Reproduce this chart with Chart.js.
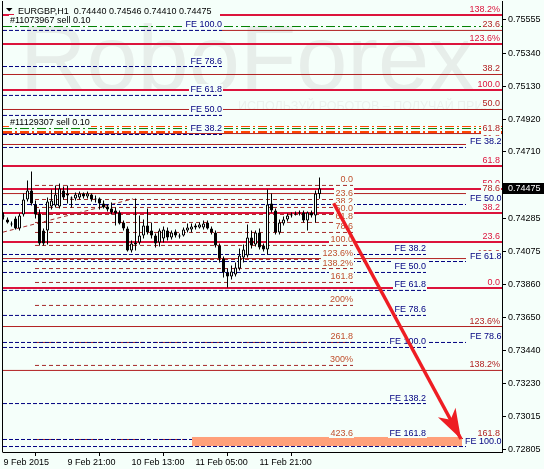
<!DOCTYPE html>
<html>
<head>
<meta charset="utf-8">
<title>EURGBP,H1</title>
<script src="https://cdn.jsdelivr.net/npm/chart.js@4.4.1/dist/chart.umd.min.js"></script>
<style>
html,body{margin:0;padding:0;background:#F5FFFA;overflow:hidden;}
canvas{display:block;}
</style>
</head>
<body>
<canvas id="chart" width="544" height="469"></canvas>
<script>
// ---------------- DATA ----------------
const symbolTitle = 'EURGBP,H1';
const hours = [0,1,2,3,4,5,6,7,8,9,10,11,12,13,14,15,16,17,18,19,20,21,22,23,24,25,26,27,28,29,30,31,32,33,34,35,36,37,38,39,40,41,42,43,44,45,46,47,48,49,50,51,52,53,54,55,56,57,58,59,60,61,62,63,64,65,66,67,68,69,70,71,72,73,74,75,76,77,78,79];
const opens = [0.74296,0.74277,0.74251,0.74283,0.74219,0.74309,0.74405,0.74462,0.74373,0.74315,
0.74207,0.74207,0.74360,0.74367,0.74360,0.74462,0.74430,0.74411,0.74411,0.74418,
0.74443,0.74424,0.74437,0.74405,0.74411,0.74379,0.74360,0.74347,0.74335,0.74322,
0.74258,0.74219,0.74079,0.74117,0.74130,0.74175,0.74239,0.74207,0.74175,0.74130,
0.74155,0.74207,0.74162,0.74200,0.74175,0.74175,0.74207,0.74213,0.74239,0.74226,
0.74226,0.74258,0.74219,0.74194,0.74111,0.74027,0.73938,0.73912,0.73925,0.73963,
0.74034,0.74047,0.74162,0.74117,0.74194,0.74111,0.74085,0.74379,0.74335,0.74194,
0.74251,0.74277,0.74303,0.74309,0.74315,0.74322,0.74271,0.74322,0.74303,0.74440];
const highs = [0.74322,0.74290,0.74264,0.74296,0.74315,0.74443,0.74527,0.74584,0.74398,0.74341,
0.74219,0.74418,0.74469,0.74494,0.74507,0.74488,0.74494,0.74424,0.74450,0.74456,
0.74450,0.74456,0.74443,0.74430,0.74418,0.74398,0.74373,0.74386,0.74354,0.74335,
0.74271,0.74232,0.74143,0.74411,0.74303,0.74277,0.74347,0.74258,0.74187,0.74219,
0.74232,0.74226,0.74207,0.74213,0.74187,0.74226,0.74251,0.74251,0.74251,0.74258,
0.74271,0.74271,0.74232,0.74207,0.74123,0.74040,0.73963,0.73983,0.74002,0.74091,
0.74117,0.74245,0.74207,0.74207,0.74219,0.74123,0.74469,0.74443,0.74347,0.74277,
0.74296,0.74315,0.74322,0.74328,0.74335,0.74335,0.74328,0.74335,0.74462,0.74546];
const lows = [0.74277,0.74251,0.74232,0.74213,0.74207,0.74296,0.74392,0.74367,0.74283,0.74111,
0.74111,0.74117,0.74341,0.74354,0.74347,0.74405,0.74379,0.74354,0.74398,0.74405,
0.74411,0.74411,0.74392,0.74386,0.74341,0.74347,0.74328,0.74309,0.74239,0.74245,
0.74207,0.74072,0.74066,0.74079,0.74117,0.74155,0.74181,0.74155,0.74098,0.74104,
0.74130,0.74143,0.74149,0.74162,0.74155,0.74168,0.74194,0.74194,0.74213,0.74219,
0.74213,0.74213,0.74181,0.74098,0.74002,0.73906,0.73842,0.73893,0.73912,0.73951,
0.74002,0.74034,0.74091,0.74104,0.74085,0.74072,0.74053,0.74322,0.74181,0.74181,
0.74239,0.74264,0.74290,0.74303,0.74303,0.74258,0.74207,0.74290,0.74258,0.74410];
const closes = [0.74303,0.74258,0.74245,0.74219,0.74303,0.74405,0.74462,0.74379,0.74309,0.74123,
0.74123,0.74392,0.74398,0.74437,0.74475,0.74418,0.74443,0.74411,0.74437,0.74443,
0.74424,0.74443,0.74405,0.74411,0.74379,0.74354,0.74341,0.74322,0.74315,0.74251,
0.74219,0.74079,0.74123,0.74130,0.74175,0.74239,0.74194,0.74175,0.74123,0.74207,
0.74213,0.74162,0.74194,0.74175,0.74168,0.74213,0.74226,0.74232,0.74226,0.74245,
0.74251,0.74219,0.74194,0.74111,0.74027,0.73938,0.73912,0.73944,0.73970,0.74047,
0.74085,0.74162,0.74111,0.74194,0.74098,0.74085,0.74373,0.74335,0.74194,0.74258,
0.74277,0.74303,0.74309,0.74315,0.74322,0.74271,0.74322,0.74303,0.74443,0.74475];

const xTickHours = [0,16,32,48,64];
const xTickLabels = ['9 Feb 2015','9 Feb 21:00','10 Feb 13:00','11 Feb 05:00','11 Feb 21:00'];
const yTickValues = [0.75555,0.75340,0.75130,0.74920,0.74710,0.74285,0.74075,0.73860,0.73650,0.73440,0.73230,0.73015,0.72805];

// Fibonacci expansion (thick) levels
const thickFibPrices = [0.75586,0.75400,0.75106,0.74619,0.74472,0.74319,0.74133,0.73839];
const thickFibLabels = ['138.2%','123.6%','100.0','61.8','50.0','38.2','23.6','0.0'];
// Fibonacci (thin) levels
const thinFibPrices = [0.75487,0.75205,0.74981,0.74757,0.74443,0.74027,0.73592,0.73311,0.72875];
const thinFibLabels = ['23.6','38.2','50.0','61.8','78.6','100.0','123.6%','138.2%','161.8'];
const thinFibFrom = [54.625,-0.125,-0.125,-0.125,-0.125,-0.125,-0.125,-0.125,114.625];
const thinFibTo   = [124.625,124.625,124.625,115.625,115.625,115.625,124.625,124.625,124.625];
// Retracement grid (dashed)
const retrPrices = [0.74495,0.74405,0.74354,0.74309,0.74258,0.74194,0.74111,0.74021,0.73963,0.73874,0.73727,0.73490,0.73343,0.72869];
const retrLabels = ['0.0','23.6','38.2','50.0','61.8','78.6','100.0','123.6%','138.2%','161.8','200%','261.8','300%','423.6'];
const retrFrom = 7.875, retrTo = 87.375;
const retrLineX = [-0.125, 32.375];
const retrLineY = [0.74196, 0.74409];
// FE sets
const feAPrices = [0.75487,0.75256,0.75071,0.74943,0.74821];
const feALabels = ['FE 100.0','FE 78.6','FE 61.8','FE 50.0','FE 38.2'];
const feAEnd = 54.625;
const feBPrices = [0.74053,0.73938,0.73823,0.73663,0.73458,0.73099,0.72869];
const feBLabels = ['FE 38.2','FE 50.0','FE 61.8','FE 78.6','FE 100.0','FE 138.2','FE 161.8'];
const feBEnd = 105.625;
const feCPrices = [0.74738,0.74373,0.74008,0.73490,0.72824];
const feCLabels = ['FE 38.2','FE 50.0','FE 61.8','FE 78.6','FE 100.0'];
const feCEnd = 115.625;
// Orders
const orderPrices = [0.75512,0.74859];
const orderLabels = ['#11073967 sell 0.10','#11129307 sell 0.10'];
const stopPrices = [0.74872,0.74837];
const stopLabels = ['','78.6'];
const extraRedPrices = [0.74827];
const extraRedLabels = ['61.8'];
// Target zone & arrow
const zoneX = [47.125,114.625];
const zoneY = [0.72827,0.72885];
const arrowX = [82.55,114.375];
const arrowY = [0.74381,0.72872];

// ---------------- STYLE / LAYOUT ----------------
const BG = '#F5FFFA';
const FF = '"Liberation Sans", Arial, sans-serif';
const FONT = '9px ' + FF;
const X_MIN = -0.125, X_MAX = 124.625;
const Y_MIN = 0.727889, Y_MAX = 0.756753;
const RIGHT_LBL = 124.125, FEC_LBL = 124.5;
const THICK = '#DC143C', THIN = '#B22222', BROWN = '#A52A2A', NAVY = '#000080';
const GREEN = '#008000', ORANGE = '#FF4500', ARROW = '#EE1D23';

const datasets = [];
function level(price, x0, x1, color, width, dash) {
  datasets.push({type:'line', data:[{x:x0,y:price},{x:x1,y:price}], borderColor:color,
    borderWidth:width, borderDash:dash||[], pointRadius:0, pointHitRadius:0, fill:false,
    tension:0, borderCapStyle:'butt'});
}
thinFibPrices.forEach((p,i)=>level(p, thinFibFrom[i], thinFibTo[i], THIN, 1));
extraRedPrices.forEach(p=>level(p, X_MIN, X_MAX, THIN, 1));
thickFibPrices.forEach(p=>level(p, X_MIN, X_MAX, THICK, 2));
retrPrices.forEach(p=>level(p, retrFrom, retrTo, BROWN, 1, [4,3]));
datasets.push({type:'line', data:[{x:retrLineX[0],y:retrLineY[0]},{x:retrLineX[1],y:retrLineY[1]}],
  borderColor:BROWN, borderWidth:1, borderDash:[4,3], pointRadius:0, fill:false, tension:0});
level(stopPrices[0], X_MIN, X_MAX, ORANGE, 1, [9,3,2,3]);
orderPrices.forEach(p=>level(p, X_MIN, X_MAX, GREEN, 1, [9,3,2,3]));
level(stopPrices[1], X_MIN, X_MAX, ORANGE, 2, [9,3,2,3]);
feAPrices.forEach(p=>level(p, X_MIN, feAEnd, NAVY, 1, [4,2]));
feBPrices.forEach(p=>level(p, X_MIN, feBEnd, NAVY, 1, [4,2]));
feCPrices.forEach(p=>level(p, X_MIN, feCEnd, NAVY, 1, [4,2]));

// candles
datasets.push({type:'bar', data:hours.map((h,i)=>({x:h, y:[lows[i], highs[i]]})),
  backgroundColor:'#000000', borderWidth:0, barThickness:1, grouped:false, inflateAmount:0});
datasets.push({type:'bar', data:hours.map((h,i)=>({x:h, y:[Math.min(opens[i],closes[i]), Math.max(opens[i],closes[i])]})),
  backgroundColor:hours.map((h,i)=> closes[i] < opens[i] ? '#000000' : BG),
  borderColor:'#000000', borderWidth:1, borderSkipped:false, barThickness:3, grouped:false,
  minBarLength:1, inflateAmount:0});
// arrow
const ARROW_INDEX = datasets.length;
datasets.push({type:'line', data:[{x:arrowX[0],y:arrowY[0]},{x:arrowX[1],y:arrowY[1]}],
  borderColor:ARROW, borderWidth:3.5, pointRadius:0, fill:false, tension:0, borderCapStyle:'butt'});

datasets.forEach((d,i)=>{ d.order = datasets.length - i; });

// ---------------- DRAW HELPERS ----------------
function label(ctx, text, xPix, yLine, color, align) {
  if (!text) return;
  ctx.font = FONT;
  const w = ctx.measureText(text).width;
  const x0 = align === 'right' ? xPix - w : xPix;
  const base = Math.floor(yLine - 2.5);
  ctx.fillStyle = BG;
  ctx.fillRect(Math.floor(x0) - 1, base - 8, Math.ceil(w) + 2, 10);
  ctx.fillStyle = color;
  ctx.textAlign = 'left';
  ctx.textBaseline = 'alphabetic';
  ctx.fillText(text, x0, base);
}

const mt4Plugin = {
  id: 'mt4',
  beforeDraw(chart) {
    const c = chart.ctx; c.save(); c.fillStyle = BG; c.fillRect(0,0,chart.width,chart.height); c.restore();
  },
  beforeDatasetsDraw(chart) {
    const c = chart.ctx, a = chart.chartArea;
    c.save();
    c.beginPath(); c.rect(a.left, a.top, a.right - a.left, a.bottom - a.top); c.clip();
    c.fillStyle = '#E7EEEA';
    c.font = '92px ' + FF; c.textBaseline = 'alphabetic'; c.textAlign = 'left';
    c.fillText('RoboForex', 20, 90);
    c.fillStyle = '#EBF2EE';
    c.font = '12.5px ' + FF;
    c.fillText('ИСПОЛЬЗУЙ РОБОТОВ – ПОЛУЧАЙ ПРИБЫЛЬ', 238, 110);
    c.restore();
  },
  beforeDatasetDraw(chart, args) {
    if (args.index !== ARROW_INDEX) return;
    const c = chart.ctx, xs = chart.scales.x, ys = chart.scales.y, a = chart.chartArea;
    const X = v => xs.getPixelForValue(v), Y = v => ys.getPixelForValue(v);
    c.save();
    c.beginPath(); c.rect(a.left, a.top, a.right - a.left, a.bottom - a.top); c.clip();
    c.fillStyle = '#FFA07A';
    c.fillRect(X(zoneX[0]), Y(zoneY[1]), X(zoneX[1]) - X(zoneX[0]), Y(zoneY[0]) - Y(zoneY[1]));
    thickFibPrices.forEach((p,i)=>label(c, thickFibLabels[i], X(RIGHT_LBL), Y(p), THICK, 'right'));
    thinFibPrices.forEach((p,i)=>label(c, thinFibLabels[i], X(RIGHT_LBL), Y(p), THIN, 'right'));
    label(c, stopLabels[1], X(RIGHT_LBL), Y(stopPrices[1]), ORANGE, 'right');
    extraRedPrices.forEach((p,i)=>label(c, extraRedLabels[i], X(RIGHT_LBL), Y(p), THIN, 'right'));
    retrPrices.forEach((p,i)=>label(c, retrLabels[i], X(retrTo), Y(p), '#C0502E', 'right'));
    feAPrices.forEach((p,i)=>label(c, feALabels[i], X(feAEnd), Y(p), NAVY, 'right'));
    feBPrices.forEach((p,i)=>label(c, feBLabels[i], X(feBEnd), Y(p), NAVY, 'right'));
    feCPrices.forEach((p,i)=>label(c, feCLabels[i], X(FEC_LBL), Y(p), NAVY, 'right'));
    orderPrices.forEach((p,i)=>label(c, orderLabels[i], 10, Y(p) - 1, '#000000', 'left'));
    c.restore();
  },
  afterDatasetDraw(chart, args) {
    if (args.index !== ARROW_INDEX) return;
    const c = chart.ctx, xs = chart.scales.x, ys = chart.scales.y;
    const x0 = xs.getPixelForValue(arrowX[0]), y0 = ys.getPixelForValue(arrowY[0]);
    const x1 = xs.getPixelForValue(arrowX[1]), y1 = ys.getPixelForValue(arrowY[1]);
    const dx = x1 - x0, dy = y1 - y0, L = Math.hypot(dx, dy), ux = dx / L, uy = dy / L, px = -uy, py = ux;
    const hl = 30, hw = 10, notch = 22;
    c.save();
    c.fillStyle = ARROW;
    c.beginPath();
    c.moveTo(x1, y1);
    c.lineTo(x1 - ux*hl + px*hw, y1 - uy*hl + py*hw);
    c.lineTo(x1 - ux*notch, y1 - uy*notch);
    c.lineTo(x1 - ux*hl - px*hw, y1 - uy*hl - py*hw);
    c.closePath(); c.fill();
    c.restore();
  },
  afterDraw(chart) {
    const c = chart.ctx, a = chart.chartArea, ys = chart.scales.y;
    c.save();
    c.strokeStyle = '#000'; c.lineWidth = 1;
    c.beginPath(); c.moveTo(2.5, a.top); c.lineTo(2.5, a.bottom + 0.5); c.stroke();
    c.fillStyle = BG; c.fillRect(14, 3, 206, 13);
    c.fillStyle = '#000';
    c.beginPath(); c.moveTo(6, 8); c.lineTo(12.5, 8); c.lineTo(9.25, 11.5); c.closePath(); c.fill();
    c.font = FONT; c.textAlign = 'left'; c.textBaseline = 'alphabetic';
    const n = closes.length - 1;
    c.fillText(symbolTitle + '  ' + [opens[n], highs[n], lows[n], closes[n]].map(v=>v.toFixed(5)).join(' '), 18, 14);
    const yp = Math.round(ys.getPixelForValue(closes[n]));
    c.fillStyle = '#000'; c.fillRect(a.right + 1, yp - 6, 41, 11);
    c.fillStyle = '#FFFFFF'; c.textBaseline = 'middle';
    c.fillText(closes[n].toFixed(5), a.right + 6, yp);
    c.restore();
  }
};

new Chart(document.getElementById('chart'), {
  type: 'bar',
  data: { datasets },
  plugins: [mt4Plugin],
  options: {
    responsive: false, animation: false, devicePixelRatio: 1, events: [],
    layout: { padding: { left: 3, top: 1, right: 0, bottom: 0 } },
    plugins: { legend: { display: false }, tooltip: { enabled: false } },
    scales: {
      x: {
        type: 'linear', min: X_MIN, max: X_MAX, offset: false,
        grid: { display: true, drawOnChartArea: false, drawTicks: true, tickLength: 4, color: '#000' },
        border: { display: true, color: '#000', width: 1 },
        ticks: { align: 'start', autoSkip: false, maxRotation: 0, minRotation: 0, padding: 1, color: '#000',
          font: { family: FF, size: 9 },
          callback: v => { const k = xTickHours.indexOf(v); return k >= 0 ? xTickLabels[k] : ''; } },
        afterBuildTicks: s => { s.ticks = xTickHours.map(v => ({ value: v })); },
        afterFit: s => { s.height = 17; s.paddingLeft = 0; s.paddingRight = 0; }
      },
      y: {
        type: 'linear', position: 'right', min: Y_MIN, max: Y_MAX,
        grid: { display: true, drawOnChartArea: false, drawTicks: true, tickLength: 4, color: '#000' },
        border: { display: true, color: '#000', width: 1 },
        ticks: { padding: 2, color: '#000', font: { family: FF, size: 9 }, callback: v => Number(v).toFixed(5) },
        afterBuildTicks: s => { s.ticks = yTickValues.map(v => ({ value: v })); },
        afterFit: s => { s.width = 42; s.paddingTop = 0; s.paddingBottom = 0; }
      }
    }
  }
});
</script>
</body>
</html>
